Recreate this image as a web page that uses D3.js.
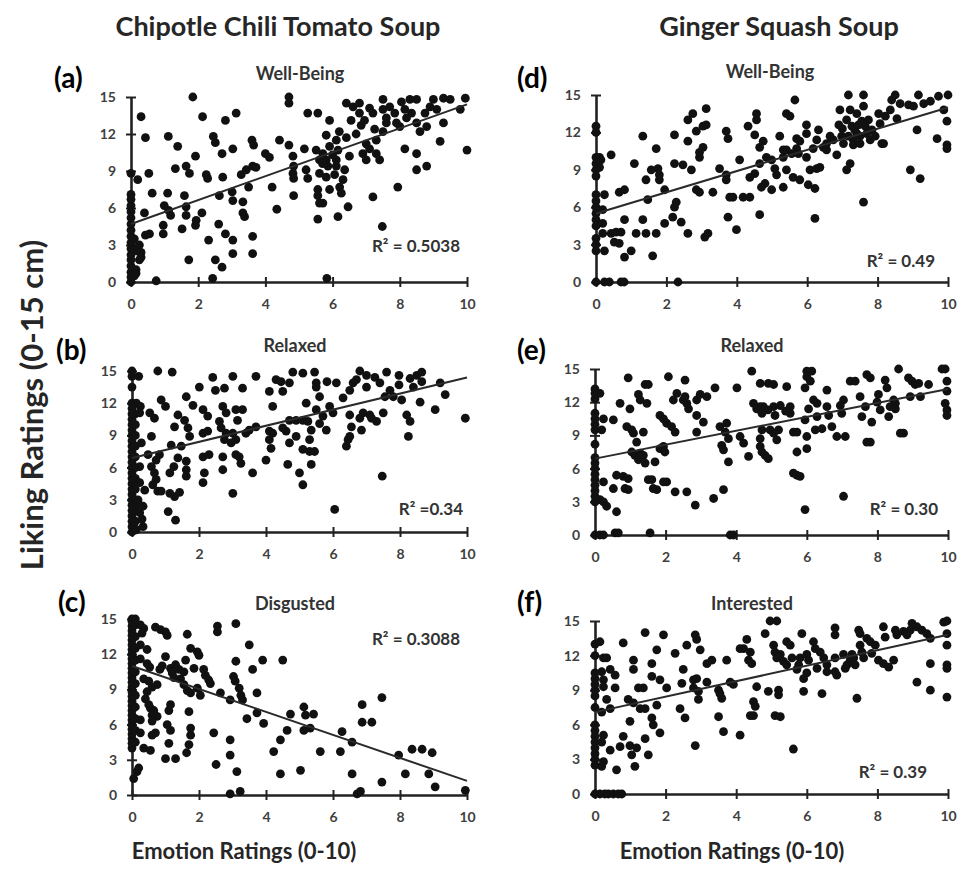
<!DOCTYPE html>
<html>
<head>
<meta charset="utf-8">
<script src="https://cdn.jsdelivr.net/npm/d3@7"></script>
<style>
  body { margin: 0; background: #fff; }
  svg { display: block; }
</style>
</head>
<body>
<svg id="chart" width="957" height="873"></svg>
<script>
const X_TICKS = [0, 2, 4, 6, 8, 10];
const Y_TICKS = [0, 3, 6, 9, 12, 15];

const soupTitles = ["Chipotle Chili Tomato Soup", "Ginger Squash Soup"];
const panelLetters = ["(a)", "(b)", "(c)", "(d)", "(e)", "(f)"];
const emotions = ["Well-Being", "Relaxed", "Disgusted", "Well-Being", "Relaxed", "Interested"];
const rSquared = ["R² = 0.5038", "R² =0.34", "R² = 0.3088", "R² = 0.49", "R² = 0.30", "R² = 0.39"];

// trend line end points [x, y] at x = 0 and x = 10
const trends = [
  [[0, 4.7], [10, 14.4]],
  [[0, 6.9], [10, 14.4]],
  [[0, 11.0], [10, 1.2]],
  [[0, 5.5], [10, 14.0]],
  [[0, 6.9], [10, 13.2]],
  [[0, 7.1], [10, 13.8]]
];

// (a) chipotle, well-being
const chipWell = [
  [0,0],[0,0.4],[0,0.8],[0,1.3],[0,1.8],[0,2.2],[0,2.7],[0,3.2],[0,3.7],[0,4.2],[0,4.7],[0,5.2],[0,5.7],[0,6.2],[0,6.7],[0,7.1],[0,8.8],
  [0.1,0.5],[0.15,1.0],[0.2,2.5],[0.25,3.0],[0.3,2.0],[0.1,3.5],[0.15,0.7],[0.25,1.8],[0.3,2.4],[0.2,2.8],
  [1.84,15.0],[0.3,13.4],[0.43,11.7],[1.11,11.8],[1.39,11.0],[2.13,13.4],[2.81,13.1],[3.13,13.7],[2.45,11.8],[2.51,11.3],
  [2.71,10.4],[3.03,10.8],[1.92,10.2],[1.32,9.2],[1.64,9.4],[1.74,8.8],[2.24,8.7],[2.28,8.4],[2.73,8.5],[0.53,8.8],
  [0.2,8.3],[0.63,7.2],[1.09,7.2],[0.99,6.2],[1.12,5.8],[1.18,5.4],[0.4,5.6],[0.43,3.8],[0.55,3.9],[0.96,4.6],
  [0.96,3.9],[1.52,4.3],[1.59,7.0],[1.64,6.1],[1.64,5.4],[1.94,5.0],[1.92,4.6],[2.11,5.6],[1.72,1.8],[2.31,3.4],
  [2.51,1.8],[2.71,1.2],[2.61,4.7],[2.81,3.9],[3.03,3.4],[3.03,2.3],[2.43,0.3],[0.75,0.1],[2.63,7.0],[3.01,7.3],
  [3.03,6.6],[3.33,6.5],[3.33,5.6],[3.38,5.3],[3.62,3.7],[3.62,2.3],[3.28,8.7],[3.43,9.1],[3.62,9.4],[3.72,9.3],
  [3.5,7.7],[3.6,11.5],[3.65,11.1],[4.0,10.4],[4.12,10.1],[4.2,7.7],[4.34,5.9],[4.42,11.5],[4.7,11.1],[4.7,15.0],
  [4.7,14.5],[4.82,10.2],[4.84,9.4],[4.84,8.4],[4.84,7.0],[4.82,8.8],[5.26,13.7],[5.56,13.7],[5.91,13.1],[5.16,10.8],
  [5.21,9.1],[5.26,8.4],[5.51,10.7],[5.61,9.9],[5.56,7.5],[5.56,7.0],[5.61,6.4],[5.71,6.4],[5.56,5.1],[5.83,0.3],
  [5.61,8.8],[5.81,8.5],[5.91,7.5],[5.81,11.9],[5.91,11.0],[5.71,10.4],[5.81,9.9],[5.86,9.4],[6.11,9.9],[6.11,11.5],
  [6.16,10.7],[6.11,9.4],[6.06,8.7],[6.21,7.7],[6.26,7.2],[6.31,8.3],[6.36,9.1],[6.16,5.3],[6.46,6.1],[6.41,11.7],
  [6.41,14.5],[6.55,13.1],[6.61,14.2],[6.8,14.5],[6.8,13.7],[6.85,12.7],[7.0,11.2],[6.9,10.4],[7.0,9.9],[7.3,10.4],
  [7.4,9.9],[7.2,6.9],[7.48,4.5],[7.94,7.7],[7.1,14.1],[7.2,13.7],[7.5,14.8],[7.5,14.0],[7.6,12.9],[7.5,12.2],
  [7.7,14.2],[7.85,13.7],[8.0,12.6],[8.05,14.6],[8.15,14.0],[8.3,14.8],[8.35,13.7],[8.5,14.8],[8.5,12.9],[8.6,12.2],
  [8.75,13.7],[8.8,12.6],[8.9,14.2],[9.0,14.8],[9.1,14.0],[9.3,12.9],[9.3,14.9],[9.5,14.8],[9.8,14.0],[9.95,14.9],
  [10.0,10.7],[9.2,11.4],[8.5,10.4],[8.8,9.4],[8.5,9.1],[8.15,10.8],[7.3,11.5],[7.6,13.3],[7.9,12.9],[8.2,13.3],
  [6.7,12.0],[6.95,13.1],[7.25,12.4],[7.1,10.8],[6.5,10.2],[6.0,10.3],[5.7,9.6],[6.2,12.2]
];

// (b) chipotle, relaxed
const chipRelax = [
  [0,0],[0,0.5],[0,1],[0,1.5],[0,2],[0,2.5],[0,3],[0,3.5],[0,4],[0,4.5],[0,5],[0,5.5],[0,6],[0,6.5],[0,7],[0,7.5],
  [0,8],[0,8.5],[0,9],[0,9.5],[0,10],[0,10.5],[0,11],[0,11.5],[0,12],[0,13.5],[0,14.5],[0,15],
  [0.1,0.3],[0.1,1],[0.1,2],[0.1,3],[0.1,4],[0.1,5],[0.1,6],[0.1,7],[0.1,8],[0.1,9],[0.1,10],[0.1,11],
  [0.23,1.8],[0.33,0.5],[0.13,0.2],[0.18,3.0],[0.38,3.9],[0.33,2.4],[0.23,4.6],[0.23,6.1],[0.3,1.2],[0.2,2.6],
  [0.2,14.5],[0.13,12.0],[0.25,11.7],[0.03,11.1],[0.23,11.1],[0.53,11.1],[0.67,10.6],[0.77,15.0],[1.2,14.9],[0.87,12.3],
  [1.0,11.7],[1.62,12.6],[1.82,11.8],[1.37,10.9],[1.57,10.4],[1.27,9.8],[1.67,9.7],[1.72,8.9],[1.17,8.1],[1.47,8.0],
  [0.82,7.2],[0.58,8.9],[0.28,8.3],[0.48,7.2],[0.72,6.7],[0.58,6.1],[0.67,5.5],[0.72,4.9],[0.62,4.4],[0.77,3.8],
  [0.87,3.8],[1.13,3.6],[1.27,3.3],[1.42,3.7],[1.13,5.5],[1.25,6.1],[1.37,6.9],[1.62,6.6],[1.62,5.8],[1.62,5.2],
  [1.08,1.9],[1.3,1.1],[2.01,13.5],[2.12,11.4],[2.26,10.8],[2.12,9.2],[2.26,9.4],[2.12,7.0],[2.3,7.2],[2.16,5.5],
  [2.12,4.6],[2.41,14.4],[2.49,13.2],[2.76,13.4],[2.71,11.7],[2.81,11.1],[2.61,10.3],[2.66,9.7],[2.81,9.2],[2.76,8.6],
  [2.71,7.0],[2.71,5.8],[3.01,14.5],[3.1,11.4],[3.15,10.4],[3.01,9.2],[2.96,8.3],[3.1,8.6],[3.1,7.2],[3.2,7.0],
  [3.25,6.4],[3.01,3.6],[3.3,13.4],[3.3,11.4],[3.5,9.5],[3.4,9.2],[3.6,5.5],[3.7,14.5],[3.7,9.8],[4.0,6.7],
  [4.1,13.1],[4.2,11.7],[4.1,9.4],[4.2,9.2],[4.1,8.6],[4.15,7.8],[4.3,14.2],[4.45,14.0],[4.5,13.1],[4.6,9.4],
  [4.7,10.4],[4.7,8.3],[4.65,6.3],[4.7,13.9],[4.8,14.9],[5.0,5.5],[5.1,4.4],[4.9,8.9],[5.1,14.8],[5.2,12.0],
  [5.1,10.4],[5.1,7.7],[5.3,7.5],[5.45,7.5],[5.3,8.6],[5.35,9.5],[5.35,6.3],[5.45,14.9],[5.5,13.5],[5.5,13.9],
  [5.6,12.6],[5.5,11.4],[5.6,10.1],[5.7,10.8],[5.8,9.5],[5.9,11.7],[6.0,11.1],[5.82,14.0],[6.1,13.9],[6.05,2.1],
  [6.3,12.5],[6.4,8.0],[6.45,8.6],[6.5,8.9],[6.55,9.8],[6.5,10.9],[6.5,13.2],[6.6,13.9],[6.7,14.2],[6.8,15.0],
  [6.8,10.6],[6.85,9.5],[6.9,11.1],[7.0,13.5],[7.0,14.6],[7.1,10.9],[7.15,10.6],[7.25,14.4],[7.3,10.3],[7.47,5.2],
  [7.5,11.1],[7.4,13.9],[7.6,14.9],[7.55,12.6],[7.7,13.2],[7.8,12.6],[7.97,14.6],[7.97,13.7],[8.05,12.3],[8.2,10.9],
  [8.3,10.3],[8.25,8.9],[8.3,14.3],[8.4,13.5],[8.5,14.6],[8.65,14.9],[8.65,14.0],[8.6,12.1],[9.05,11.4],[9.2,13.9],
  [9.35,12.8],[9.95,10.6],[5.25,10.3],[4.9,10.4],[4.5,9.7]
];

// (c) chipotle, disgusted
const chipDisg = [
  [0,4],[0,4.4],[0,4.8],[0,5.2],[0,5.6],[0,6],[0,6.4],[0,6.8],[0,7.2],[0,7.6],[0,8],[0,8.4],[0,8.8],[0,9.2],[0,9.6],
  [0,10],[0,10.4],[0,10.8],[0,11.2],[0,11.6],[0,12],[0,12.4],[0,12.8],[0,13.2],[0,13.6],[0,14],[0,14.4],[0,14.8],[0,15],
  [0.1,4.5],[0.1,5.5],[0.1,6.5],[0.1,7.5],[0.1,8.5],[0.1,9.5],[0.1,10.5],[0.1,11.5],[0.1,12.5],[0.1,13.5],[0.1,14.5],[0.1,15],
  [0.05,1.4],[0.15,2.0],[0.2,2.3],
  [0.25,14.5],[0.35,14.2],[0.3,13.8],[0.25,12.8],[0.45,12.4],[0.25,11.6],[0.45,11.2],[0.53,10.9],
  [0.7,14.3],[0.85,14.1],[1.0,13.9],[1.05,13.6],[1.0,11.8],[0.83,10.7],[1.15,10.8],[1.2,10.4],[1.3,11.1],[1.4,10.7],
  [1.55,10.5],[1.65,13.7],[1.75,12.5],[1.95,12.2],[2.0,11.9],[1.85,10.8],[2.14,10.7],[2.19,10.2],[2.29,9.8],[2.34,9.5],
  [1.45,9.9],[1.55,9.4],[1.65,8.9],[1.75,8.7],[1.95,9.1],[2.04,8.5],[0.35,9.9],[0.5,9.7],[0.6,9.2],[0.75,9.4],
  [0.45,8.8],[0.4,8.2],[0.5,7.7],[0.55,7.4],[0.65,7.2],[0.6,6.8],[0.75,6.7],[0.6,6.3],[0.7,5.3],[0.6,5.1],
  [0.25,6.4],[0.25,5.3],[0.35,4.0],[0.55,3.8],[1.15,7.7],[1.1,7.2],[1.05,6.0],[1.15,5.5],[1.1,4.4],[1.0,3.1],
  [1.3,3.1],[1.7,7.1],[1.75,5.7],[1.75,5.1],[1.7,4.3],[1.63,3.6],[2.55,14.4],[2.55,13.9],[3.1,14.6],[3.5,12.8],
  [3.1,11.4],[3.6,10.7],[3.9,11.5],[4.5,11.5],[3.03,10.1],[3.08,9.7],[3.2,9.1],[3.25,8.5],[3.3,8.1],[2.93,8.1],
  [2.64,8.7],[3.73,8.7],[2.44,5.3],[2.93,4.7],[2.93,3.4],[3.13,2.0],[2.51,2.6],[2.93,0.1],[3.23,0.3],[3.43,6.5],
  [3.73,7.0],[3.93,6.1],[4.23,3.7],[4.43,4.7],[4.43,1.8],[4.63,5.5],[4.73,6.9],[5.03,2.1],[5.13,7.5],[5.18,6.8],
  [5.42,6.9],[5.13,5.5],[5.32,5.7],[5.62,3.7],[6.22,3.7],[6.27,5.4],[6.57,4.5],[6.57,1.8],[6.72,0.1],[6.82,0.3],
  [6.87,7.7],[6.87,6.2],[7.16,6.2],[7.46,8.3],[7.46,1.1],[7.96,3.4],[8.16,1.8],[8.36,3.9],[8.66,3.9],[8.96,3.6],
  [8.86,1.8],[9.05,0.7],[9.95,0.4],[1.25,10.0],[0.9,11.0],[1.6,11.5]
];

// (d) ginger, well-being
const gingWell = [
  [0,12.5],[0,12.0],[0,10.0],[0,9.5],[0,9.0],[0,8.5],[0,7.0],[0,6.5],[0,6.0],[0,5.5],[0,5.0],[0,4.5],[0,3.5],[0,3.0],[0,2.5],[0,0],
  [0.1,10.0],[0.14,9.8],[0.1,9.2],[0.24,7.0],[0.19,5.8],[0.19,4.7],[0.19,3.9],[0.24,0],[0.38,0],[0.71,0],[0.8,0],[2.33,0],
  [0.43,10.2],[1.33,11.7],[1.09,9.5],[0.66,7.2],[0.81,7.4],[0.81,5.0],[0.43,3.9],[0.57,4.0],[0.71,4.0],[0.52,3.2],
  [0.66,3.1],[0.24,2.5],[0.81,2.0],[1.0,2.5],[1.14,3.9],[1.71,10.7],[1.57,9.0],[1.42,8.2],[1.76,9.1],[1.8,8.6],
  [1.8,8.2],[1.47,6.6],[1.33,5.0],[1.42,3.9],[1.71,3.9],[1.61,2.1],[1.95,4.7],[1.95,7.4],[2.23,11.8],[2.23,9.5],
  [2.47,9.4],[2.28,6.4],[2.23,6.0],[2.18,5.2],[2.42,4.8],[2.61,3.9],[2.61,13.0],[2.75,13.5],[2.85,12.1],[3.04,12.5],
  [2.61,11.3],[2.71,9.0],[2.85,7.4],[2.94,7.2],[3.13,13.9],[3.13,12.6],[3.04,10.8],[2.94,10.4],[2.94,10.0],[3.09,3.6],
  [3.18,3.9],[3.32,7.2],[3.51,9.1],[3.7,12.1],[3.75,11.5],[3.7,8.6],[3.7,8.2],[3.75,5.2],[3.8,6.8],[3.89,6.8],
  [3.99,4.2],[4.08,9.8],[4.18,6.8],[4.37,6.8],[4.32,12.5],[4.51,11.8],[4.56,13.5],[4.56,13.0],[4.51,8.7],[4.65,9.5],
  [4.65,10.8],[4.75,11.3],[4.7,7.6],[4.8,7.9],[4.65,5.4],[4.37,8.4],[4.84,10.0],[4.99,7.4],[5.08,9.1],[4.99,9.8],
  [5.13,8.6],[5.22,11.7],[5.32,10.6],[5.32,10.0],[5.32,7.6],[5.41,13.5],[5.51,13.3],[5.41,10.6],[5.56,10.3],[5.41,9.0],
  [5.6,8.4],[5.65,14.6],[5.7,11.5],[5.79,11.3],[5.7,10.7],[5.75,10.3],[5.79,8.2],[5.98,12.6],[5.98,11.9],[5.98,10.0],
  [6.03,7.8],[6.08,9.0],[6.17,10.7],[6.27,11.4],[6.32,12.2],[6.27,9.1],[6.36,9.2],[6.22,7.5],[6.22,5.1],[6.46,10.8],
  [6.55,11.1],[6.55,10.6],[6.65,11.7],[6.74,11.4],[6.84,10.2],[6.93,13.8],[6.98,11.7],[7.03,11.1],[7.12,13.0],[7.17,11.7],
  [7.17,15.0],[7.22,13.8],[7.27,12.5],[7.31,11.4],[7.12,9.0],[7.22,9.5],[7.31,11.0],[7.41,11.9],[7.41,13.5],[7.46,12.6],
  [7.5,11.7],[7.5,11.1],[7.6,15.0],[7.6,14.1],[7.6,6.4],[7.65,12.5],[7.69,11.9],[7.74,13.0],[7.79,11.4],[7.84,12.2],
  [7.93,11.7],[8.03,13.5],[8.07,12.7],[8.12,11.1],[8.17,11.1],[8.22,13.3],[8.36,13.8],[8.4,14.6],[8.55,13.1],[8.5,15.0],
  [8.64,14.3],[8.88,14.2],[8.93,9.0],[9.02,14.1],[9.16,15.0],[9.21,8.3],[9.12,12.2],[9.31,14.3],[9.5,14.5],[9.69,11.5],
  [9.73,14.9],[9.88,13.8],[9.97,12.9],[9.97,11.0],[9.97,10.7],[10,15],[7.0,12.3],[7.35,12.2],[6.9,12.6],[7.55,12.9]
];

// (e) ginger, relaxed
const gingRelax = [
  [0,0],[0,3.0],[0,3.5],[0,4.0],[0,4.5],[0,5.0],[0,5.5],[0,6.0],[0,6.5],[0,7.0],[0,8.2],[0,9.5],[0,10.0],[0,10.5],[0,11.0],[0,12.3],[0,12.8],[0,13.2],
  [0.14,12.8],[0.19,9.5],[0.24,10.5],[0.24,4.8],[0.14,3.2],[0.24,3.0],[0.33,2.6],[0.14,0],[0.24,0],[0.61,2.1],[0.57,0.2],[0.66,0.2],
  [1.56,0.2],[3.83,0],[3.92,0],[0.52,10.4],[0.71,11.9],[0.61,5.4],[0.52,4.2],[0.8,5.3],[0.85,4.2],[0.94,5.1],
  [0.94,4.1],[0.94,14.2],[0.99,11.4],[0.9,9.8],[1.04,9.5],[1.09,9.2],[1.04,7.5],[1.13,7.2],[1.23,6.8],[1.28,7.4],
  [1.18,8.4],[1.23,12.7],[1.28,12.2],[1.37,9.3],[1.42,13.6],[1.51,13.6],[1.47,11.9],[1.37,7.2],[1.42,6.5],[1.51,5.0],
  [1.61,5.0],[1.65,4.2],[1.75,4.1],[1.7,6.6],[1.84,7.8],[1.94,8.0],[1.84,10.8],[1.94,10.5],[2.03,10.1],[1.98,7.5],
  [2.03,4.8],[1.94,4.8],[2.08,14.3],[2.22,12.2],[2.32,12.8],[2.17,9.8],[2.27,9.3],[2.27,3.9],[2.5,12.2],[2.55,14.0],
  [2.55,12.5],[2.6,11.9],[2.65,11.4],[2.6,3.9],[2.84,2.7],[2.88,10.8],[2.88,9.3],[2.88,12.2],[2.98,12.7],[3.07,10.2],
  [3.17,12.5],[3.36,3.3],[3.4,13.3],[3.64,4.1],[3.54,9.8],[3.59,8.1],[3.64,7.7],[3.69,9.3],[3.73,10.1],[3.78,8.7],
  [3.78,6.6],[4.02,13.3],[4.11,8.9],[4.21,8.3],[4.35,7.1],[4.44,14.8],[4.49,11.9],[4.58,11.4],[4.68,13.7],[4.68,11.6],
  [4.77,11.6],[4.73,11.0],[4.73,9.5],[4.68,8.7],[4.68,8.0],[4.73,7.5],[4.82,7.2],[4.91,6.9],[4.91,13.7],[5.06,13.6],
  [5.06,11.6],[5.1,10.8],[4.96,9.5],[5.06,9.2],[5.15,8.6],[5.2,9.5],[5.25,11.7],[5.43,13.4],[5.53,11.6],[5.62,9.3],
  [5.72,9.3],[5.53,11.0],[5.62,5.6],[5.72,5.4],[5.81,5.3],[5.72,7.5],[6.0,8.9],[6.0,7.8],[5.95,2.3],[5.95,13.3],
  [6.0,14.3],[6.0,14.8],[6.14,14.8],[6.1,13.9],[5.95,10.4],[6.05,11.4],[6.19,12.2],[6.29,11.9],[6.29,10.7],[6.24,9.5],
  [6.43,9.6],[6.57,13.1],[6.57,11.6],[6.62,10.8],[6.71,9.8],[6.85,8.9],[6.95,11.7],[6.99,11.0],[7.04,12.2],[7.09,8.9],
  [7.04,3.5],[7.23,13.9],[7.37,13.9],[7.51,12.5],[7.56,10.7],[7.66,11.6],[7.7,8.4],[7.8,8.4],[7.7,14.5],[7.8,14.2],
  [7.84,10.2],[7.99,12.0],[8.03,12.7],[8.08,11.3],[8.22,14.0],[8.27,13.3],[8.32,10.7],[8.36,11.6],[8.46,12.2],[8.51,11.9],
  [8.6,15.0],[8.51,11.4],[8.65,9.2],[8.74,9.2],[8.88,14.2],[8.98,13.9],[8.93,12.5],[9.07,13.6],[9.17,13.7],[9.22,12.5],
  [9.45,13.6],[9.83,15.0],[9.92,15.0],[9.97,13.9],[9.92,11.9],[9.97,11.3],[9.97,10.8],[9.97,13.0],[4.9,11.3],[5.4,11.2]
];

// (f) ginger, interested
const gingInt = [
  [0,0],[0,2.5],[0,3.0],[0,3.5],[0,4.0],[0,4.5],[0,5.0],[0,5.5],[0,6.0],[0,7.5],[0,8.5],[0,9.0],[0,9.5],[0,10.0],[0,10.5],[0,12.0],[0,13.0],
  [0.14,0],[0.28,0],[0.38,0],[0.52,0],[0.66,0],[0.76,0],
  [0.14,13.2],[0.24,11.8],[0.33,11.8],[0.19,10.6],[0.43,10.8],[0.57,10.3],[0.24,9.9],[0.24,9.3],[0.33,8.2],[0.43,7.4],
  [0.19,7.1],[0.24,5.1],[0.19,4.5],[0.43,3.8],[0.24,2.8],[0.19,2.4],[0.61,2.1],[0.57,9.2],[0.8,13.1],[0.71,4.1],
  [0.8,5.0],[0.99,6.3],[0.94,8.2],[1.09,7.9],[1.09,10.8],[1.09,11.6],[0.99,4.2],[1.04,3.4],[1.13,2.4],[1.18,4.0],
  [1.23,9.2],[1.37,9.2],[1.28,7.4],[1.42,7.4],[1.42,4.8],[1.51,3.4],[1.61,6.6],[1.65,6.0],[1.75,7.7],[1.84,5.3],
  [1.42,14.0],[1.61,11.3],[1.61,10.2],[1.75,12.5],[1.84,9.9],[1.94,13.8],[2.03,9.2],[2.27,12.2],[2.41,7.4],[2.55,6.6],
  [2.5,10.8],[2.6,12.9],[2.46,9.6],[2.79,9.9],[2.79,9.2],[2.88,10.0],[2.84,4.2],[2.88,13.4],[2.84,13.8],[2.98,12.5],
  [2.93,8.9],[2.93,8.2],[3.17,9.7],[3.17,11.3],[3.31,11.6],[3.5,9.0],[3.54,8.7],[3.59,8.3],[3.5,6.7],[3.64,5.4],
  [3.73,11.6],[3.83,9.7],[3.92,9.5],[4.11,12.6],[4.11,5.1],[4.21,12.6],[4.3,13.4],[4.35,11.6],[4.4,12.3],[4.44,11.3],
  [4.49,8.0],[4.54,7.6],[4.4,6.8],[4.49,6.8],[4.58,9.3],[4.82,13.9],[4.91,8.9],[4.96,15.0],[5.15,15.0],[5.06,12.9],
  [5.1,12.3],[5.15,11.8],[5.2,9.0],[5.2,8.6],[5.1,6.8],[5.25,6.7],[5.25,12.1],[5.34,11.5],[5.43,13.2],[5.53,12.9],
  [5.43,11.2],[5.58,11.8],[5.62,3.9],[5.72,10.8],[5.77,11.2],[5.81,11.8],[5.91,10.0],[5.91,8.9],[5.86,13.9],[6.0,12.1],
  [6.0,10.5],[6.05,11.6],[6.19,13.2],[6.24,12.6],[6.29,10.9],[6.43,8.7],[6.38,12.3],[6.48,11.8],[6.57,11.2],[6.57,10.6],
  [6.8,14.4],[6.8,13.8],[6.8,11.8],[6.8,10.6],[6.85,10.3],[7.04,12.1],[7.09,10.9],[7.14,11.2],[7.23,11.6],[7.28,12.1],
  [7.33,11.8],[7.37,11.2],[7.42,8.3],[7.47,14.2],[7.51,13.9],[7.51,12.9],[7.56,12.3],[7.61,11.8],[7.7,13.5],[7.8,13.2],
  [7.84,12.2],[7.94,12.9],[8.03,11.6],[8.17,14.5],[8.22,13.6],[8.17,11.3],[8.32,11.0],[8.46,11.6],[8.51,14.2],[8.55,13.8],
  [8.74,14.1],[8.84,13.8],[8.93,14.2],[8.98,14.8],[9.12,14.5],[9.26,14.2],[9.4,13.9],[9.5,13.5],[9.12,9.7],[9.5,9.0],
  [9.5,11.3],[9.88,14.9],[9.97,15.0],[9.97,13.9],[9.97,12.9],[9.97,11.2],[9.97,10.9],[9.97,8.4]
];

const panelData = [chipWell, chipRelax, chipDisg, gingWell, gingRelax, gingInt];

// pixel frame of each plot: x0/x1 axis ends, y0 (value 0) and y1 (value 15)
const frames = [
  { x0: 131, x1: 467, y0: 282, y1: 97 },
  { x0: 132, x1: 467, y0: 532, y1: 371 },
  { x0: 132, x1: 467, y0: 795, y1: 619 },
  { x0: 596, x1: 948, y0: 282, y1: 95 },
  { x0: 595, x1: 948, y0: 535, y1: 369 },
  { x0: 595, x1: 948, y0: 794, y1: 621 }
];
const subtitlePos = [[300, 80], [295, 352], [295, 610], [770, 78], [752, 352], [752, 610]];
const letterPos = [[54, 88], [56, 360], [58, 612], [517, 88], [517, 360], [517, 612]];
const rPos = [[460, 252], [463, 515], [460, 645], [935, 267], [938, 515], [927, 778]];

const FONT = "Lato, 'Open Sans', sans-serif";
const INK = "#111";
const TEXT = "#333";

const svg = d3.select("#chart");

svg.selectAll("text.soup")
  .data(soupTitles)
  .join("text")
  .attr("class", "soup")
  .attr("x", (d, i) => [278, 779][i])
  .attr("y", 36)
  .attr("text-anchor", "middle")
  .style("font-family", FONT)
  .style("font-weight", 700)
  .style("font-size", "27px")
  .style("fill", "#262626")
  .text((d) => d);

svg.append("text")
  .attr("transform", "translate(43,405) rotate(-90)")
  .attr("text-anchor", "middle")
  .style("font-family", FONT)
  .style("font-weight", 700)
  .style("font-size", "31px")
  .style("fill", "#262626")
  .text("Liking Ratings (0-15 cm)");

[244, 732].forEach((cx) => {
  svg.append("text")
    .attr("x", cx)
    .attr("y", 859)
    .attr("text-anchor", "middle")
    .style("font-family", FONT)
    .style("font-weight", 700)
    .style("font-size", "22px")
    .style("fill", "#262626")
    .text("Emotion Ratings (0-10)");
});

const drawPanel = (i) => {
  const f = frames[i];
  const x = d3.scaleLinear().domain([0, 10]).range([f.x0, f.x1]);
  const y = d3.scaleLinear().domain([0, 15]).range([f.y0, f.y1]);
  const g = svg.append("g").attr("class", "panel");

  const yAxis = g.append("g")
    .attr("transform", `translate(${f.x0},0)`)
    .call(d3.axisLeft(y).tickValues(Y_TICKS).tickSize(0).tickSizeOuter(0).tickPadding(15));
  yAxis.selectAll(".tick line").attr("x1", -5).attr("x2", 5);

  const xAxis = g.append("g")
    .attr("transform", `translate(0,${f.y0})`)
    .call(d3.axisBottom(x).tickValues(X_TICKS).tickSize(0).tickSizeOuter(0).tickPadding(17));
  xAxis.selectAll(".tick line").attr("y1", -5).attr("y2", 5);

  [yAxis, xAxis].forEach((a) => {
    a.select(".domain").attr("stroke", "#222").attr("stroke-width", 2.6);
    a.selectAll(".tick line").attr("stroke", "#222").attr("stroke-width", 2);
    a.selectAll(".tick text")
      .style("font-family", FONT)
      .style("font-weight", 700)
      .style("font-size", "14px")
      .attr("fill", "#404040");
  });

  g.selectAll("circle")
    .data(panelData[i])
    .join("circle")
    .attr("cx", (d) => x(d[0]))
    .attr("cy", (d) => y(d[1]))
    .attr("r", 4.4)
    .attr("fill", INK);

  g.append("path")
    .datum(trends[i])
    .attr("d", d3.line().x((d) => x(d[0])).y((d) => y(d[1])))
    .attr("stroke", "#2a2a2a")
    .attr("stroke-width", 2)
    .attr("fill", "none");

  g.append("text")
    .attr("x", subtitlePos[i][0])
    .attr("y", subtitlePos[i][1])
    .attr("text-anchor", "middle")
    .style("font-family", FONT)
    .style("font-weight", 700)
    .style("font-size", "18px")
    .style("fill", TEXT)
    .text(emotions[i]);

  g.append("text")
    .attr("x", letterPos[i][0])
    .attr("y", letterPos[i][1])
    .style("font-family", FONT)
    .style("font-weight", 700)
    .style("font-size", "28px")
    .style("fill", "#000")
    .text(panelLetters[i]);

  g.append("text")
    .attr("x", rPos[i][0])
    .attr("y", rPos[i][1])
    .attr("text-anchor", "end")
    .style("font-family", FONT)
    .style("font-weight", 700)
    .style("font-size", "17px")
    .style("fill", TEXT)
    .text(rSquared[i]);
};

d3.range(6).forEach(drawPanel);
</script>
</body>
</html>
